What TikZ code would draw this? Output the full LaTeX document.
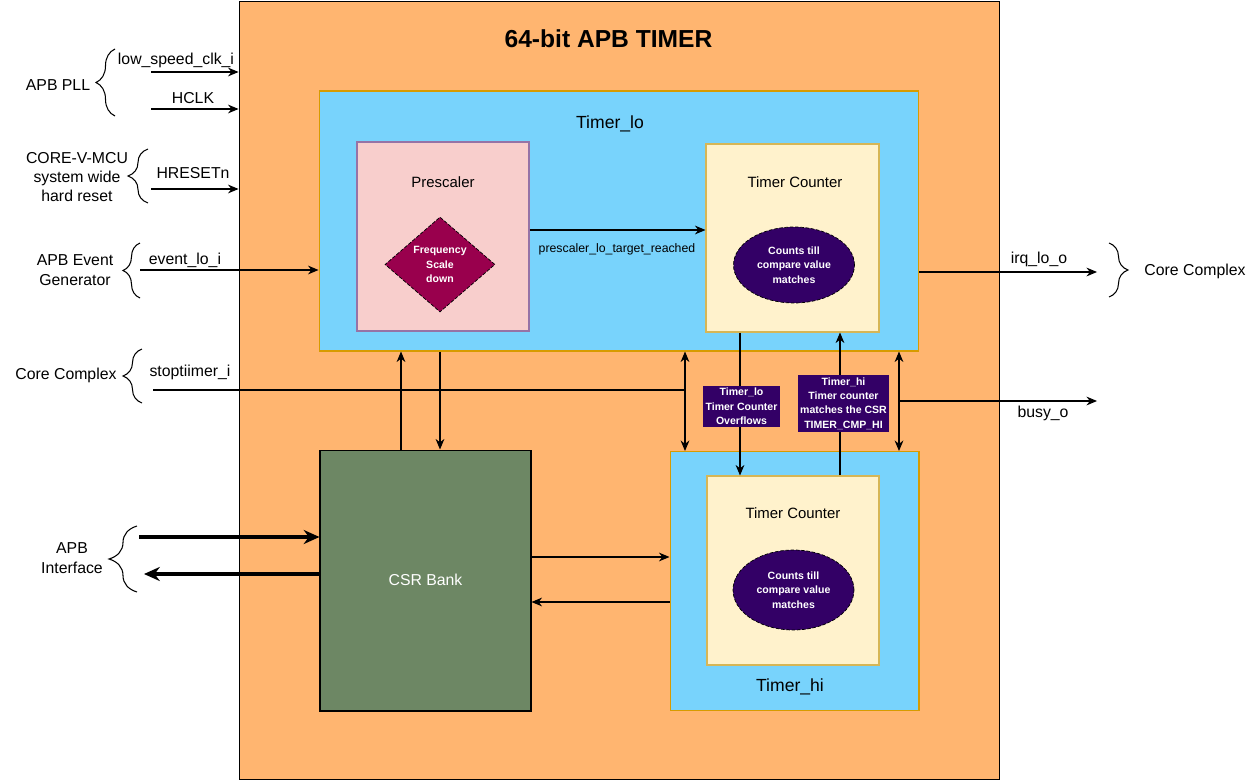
\documentclass[tikz,border=0pt]{standalone}
\usepackage{fontspec}
\setmainfont{Liberation Sans}
\usetikzlibrary{arrows.meta,shapes.geometric,decorations.pathreplacing}
\definecolor{timerorange}{HTML}{FFB570}
\definecolor{timerblue}{HTML}{78D3FC}
\definecolor{blueedge}{HTML}{D79B00}
\definecolor{prepink}{HTML}{F8CECC}
\definecolor{preedge}{HTML}{9673A6}
\definecolor{cntyellow}{HTML}{FFF2CC}
\definecolor{cntedge}{HTML}{D6B656}
\definecolor{freqred}{HTML}{99004D}
\definecolor{darkpurple}{HTML}{330066}
\definecolor{csrgreen}{HTML}{6D8764}
\begin{document}
\begin{tikzpicture}[x=0.02cm, y=-0.02cm,
		font=\fontsize{9}{11}\selectfont,
		sig/.style={-{Stealth[length=6pt,width=5pt]}, line width=0.6pt},
		bisig/.style={{Stealth[length=6pt,width=5pt]}-{Stealth[length=6pt,width=5pt]}, line width=0.6pt},
		bus/.style={-{Stealth[length=9pt,width=8pt]}, line width=2.2pt},
		blk/.style={rectangle, draw, line width=0.6pt, inner sep=0pt},
		lbl/.style={inner sep=1pt, align=center},
		tagbox/.style={fill=darkpurple, text=white, inner sep=1.5pt, align=center,
			font=\fontsize{6}{8.2}\selectfont\bfseries},
		brc/.style={decorate, line width=0.6pt}]
				\useasboundingbox (0,0) rectangle (1259,781);

				% APB timer blocks
				\node[blk, fill=timerorange, minimum width=15.22cm, minimum height=15.58cm] (timer) at (619.5,390.5) {};
				\node[font=\fontsize{14}{16}\selectfont\bfseries] (title) at (608.5,39) {64-bit APB TIMER};
				\node[blk, draw=blueedge, fill=timerblue, minimum width=12cm, minimum height=5.2cm] (tlo) at (619,221) {};
				\node[font=\fontsize{10}{12}\selectfont] (tlotitle) at (610,124) {Timer\_lo};
				\node[blk, draw=blueedge, fill=timerblue, minimum width=4.98cm, minimum height=5.18cm] (thi) at (794.5,581) {};
				\node[font=\fontsize{10}{12}\selectfont] (thititle) at (790,687) {Timer\_hi};
				\node[blk, fill=csrgreen, minimum width=4.22cm, minimum height=5.22cm] (csr) at (425.5,580.5) {};
				\node[text=white] (csrtitle) at (425.5,580) {CSR Bank};

				% Prescaler
				\node[blk, draw=preedge, fill=prepink, minimum width=3.44cm, minimum height=3.78cm] (presc) at (443,236.5) {};
				\node[font=\fontsize{8.5}{10}\selectfont] (presctitle) at (443,182) {Prescaler};
				\node[diamond, draw, dash pattern=on 2pt off 1pt, line width=0.4pt, fill=freqred, text=white,
					inner sep=0pt, minimum width=2.2cm, minimum height=1.9cm, align=center,
					font=\fontsize{6}{8.2}\selectfont\bfseries] (freq) at (440,264.5) {Frequency\\Scale\\down};

				% Timer counters
				\node[blk, draw=cntedge, fill=cntyellow, minimum width=3.46cm, minimum height=3.76cm] (tclo) at (792.5,238) {};
				\node[font=\fontsize{8.5}{10}\selectfont] (tclotitle) at (795,182) {Timer Counter};
				\node[ellipse, draw, dash pattern=on 2pt off 1pt, line width=0.4pt, fill=darkpurple, text=white,
					inner sep=0pt, minimum width=2.42cm, minimum height=1.52cm, align=center,
					font=\fontsize{6}{8.2}\selectfont\bfseries] (cntlo) at (794,265) {Counts till\\compare value\\matches};
				\node[blk, draw=cntedge, fill=cntyellow, minimum width=3.44cm, minimum height=3.78cm] (tchi) at (793,570.5) {};
				\node[font=\fontsize{8.5}{10}\selectfont] (tchititle) at (793,513) {Timer Counter};
				\node[ellipse, draw, dash pattern=on 2pt off 1pt, line width=0.4pt, fill=darkpurple, text=white,
					inner sep=0pt, minimum width=2.42cm, minimum height=1.6cm, align=center,
					font=\fontsize{6}{8.2}\selectfont\bfseries] (cnthi) at (793.5,590) {Counts till\\compare value\\matches};

				% Columns and rows of the connectors
				\coordinate (colA) at (685,0);
				\coordinate (colB) at (899,0);
				\coordinate (colC) at (740,0);
				\coordinate (colD) at (840,0);
				\coordinate (colE) at (401,0);
				\coordinate (colF) at (440,0);
				\coordinate (rowA) at (0,557);
				\coordinate (rowB) at (0,602);
				\coordinate (rowD) at (0,230);

				% Inputs
				\coordinate (clkin) at (151,72);
				\coordinate (hclkin) at (151,109);
				\coordinate (rstin) at (151,189);
				\coordinate (evin) at (140,270);
				\coordinate (stopin) at (153,390);
				\coordinate (apbin) at (139,537);
				\coordinate (apbout) at (144,574);
				\draw[sig] (clkin) -- (clkin -| timer.west);
				\draw[sig] (hclkin) -- (hclkin -| timer.west);
				\draw[sig] (rstin) -- (rstin -| timer.west);
				\draw[sig] (evin) -- (evin -| tlo.west);
				\draw[line width=0.6pt] (stopin) -- (stopin -| colA);
				\draw[bus] (apbin) -- (apbin -| csr.west);
				\draw[bus] (apbout -| csr.west) -- (apbout);
				\node[lbl] (clklbl) at (176,60) {low\_speed\_clk\_i};
				\node[lbl] (hclklbl) at (193,98) {HCLK};
				\node[lbl] (rstlbl) at (193,173) {HRESETn};
				\node[lbl] (evlbl) at (185,260) {event\_lo\_i};
				\node[lbl] (stoplbl) at (190,372) {stoptiimer\_i};

				% Outputs
				\coordinate (irqout) at (1097,272);
				\coordinate (busyout) at (1097,401);
				\draw[sig] (irqout -| tlo.east) -- (irqout);
				\draw[sig] (busyout -| colB) -- (busyout);
				\node[lbl] (irqlbl) at (1039,259) {irq\_lo\_o};
				\node[lbl] (busylbl) at (1043,413) {busy\_o};

				% Internal connectors
				\draw[sig] (presc.east |- rowD) -- (tclo.west |- rowD);
				\node[lbl, font=\fontsize{7}{8}\selectfont] (reachlbl) at (617,249) {prescaler\_lo\_target\_reached};
				\draw[sig] (csr.north -| colE) -- (tlo.south -| colE);
				\draw[sig] (tlo.south -| colF) -- (csr.north -| colF);
				\draw[bisig] (tlo.south -| colA) -- (thi.north -| colA);
				\draw[bisig] (tlo.south -| colB) -- (thi.north -| colB);
				\draw[sig] (tclo.south -| colC) -- (tchi.north -| colC);
				\draw[sig] (tchi.north -| colD) -- (tclo.south -| colD);
				\draw[sig] (csr.east |- rowA) -- (thi.west |- rowA);
				\draw[sig] (thi.west |- rowB) -- (csr.east |- rowB);
				\node[tagbox] (ovflbl) at (741.5,406.5) {Timer\_lo\\Timer Counter\\Overflows};
				\node[tagbox] (cmplbl) at (843.5,403.5) {Timer\_hi\\Timer counter\\matches the CSR\\TIMER\_CMP\_HI};

				% Sources and sinks
				\draw[brc, decoration={brace, amplitude=0.38cm}] (115,116) -- (115,49);
				\node[lbl] (pll) at (58,85) {APB PLL};
				\draw[brc, decoration={brace, amplitude=0.4cm}] (148,203) -- (148,149);
				\node[lbl] (mcu) at (77,177) {CORE-V-MCU\\system wide\\hard reset};
				\draw[brc, decoration={brace, amplitude=0.34cm}] (140,298) -- (140,243);
				\node[lbl] (evgen) at (75,270) {APB Event\\Generator};
				\draw[brc, decoration={brace, amplitude=0.38cm}] (142,403) -- (142,349);
				\node[lbl] (corein) at (66,375) {Core Complex};
				\draw[brc, decoration={brace, amplitude=0.56cm}] (137,592) -- (137,526);
				\node[lbl] (apbif) at (72,558) {APB\\Interface};
				\draw[brc, decoration={brace, amplitude=0.38cm}] (1109,243) -- (1109,297);
				\node[lbl] (coreout) at (1195,271) {Core Complex};
			\end{tikzpicture}
\end{document}
